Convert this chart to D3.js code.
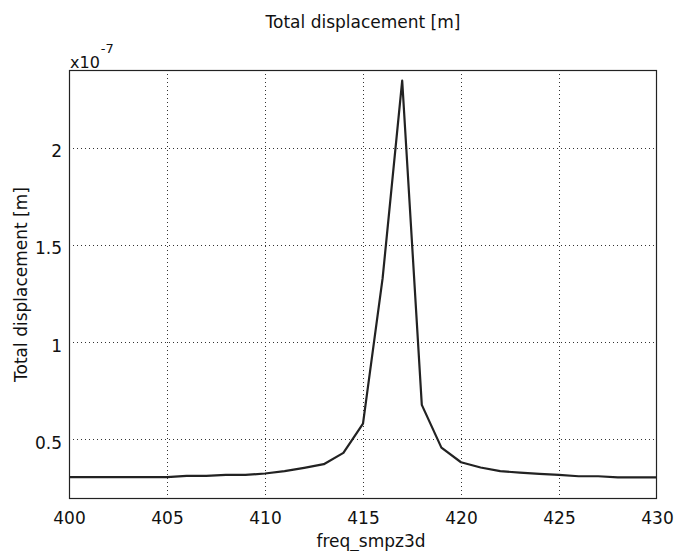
<!DOCTYPE html>
<html>
<head>
<meta charset="utf-8">
<script src="https://cdn.jsdelivr.net/npm/d3@7"></script>
<style>
  body { margin: 0; background: #fff; }
  svg { display: block; }
  text { font-family: "DejaVu Sans", sans-serif; fill: #111; }
</style>
</head>
<body>
<svg id="chart" width="676" height="551"></svg>
<script>
// Frequency sweep (Hz) and total displacement (units of 1e-7 m)
const freq = [400, 401, 402, 403, 404, 405, 406, 407, 408, 409, 410,
              411, 412, 413, 414, 415, 416, 417, 418, 419, 420,
              421, 422, 423, 424, 425, 426, 427, 428, 429, 430];
const displacement = [0.306, 0.306, 0.306, 0.306, 0.306, 0.306, 0.313, 0.313, 0.318, 0.318, 0.325,
                      0.337, 0.354, 0.373, 0.431, 0.582, 1.328, 2.345, 0.678, 0.458, 0.383,
                      0.356, 0.337, 0.330, 0.323, 0.318, 0.311, 0.311, 0.305, 0.305, 0.305];
const xTicks = [400, 405, 410, 415, 420, 425, 430];
const yTicks = [0.5, 1, 1.5, 2];
const yTickLabels = ["0.5", "1", "1.5", "2"];

const margin = { left: 69, right: 19, top: 70, bottom: 52 };
const W = 676, H = 551;
const svg = d3.select("#chart");

const x = d3.scaleLinear().domain([400, 430]).range([margin.left, W - margin.right]);
const y = d3.scaleLinear().domain([0.194, 2.4]).range([H - margin.bottom, margin.top]);

// dotted grid
const grid = svg.append("g").attr("stroke", "#333").attr("stroke-width", 1)
  .attr("stroke-dasharray", "1,3").attr("shape-rendering", "crispEdges");
grid.selectAll(".gx").data(xTicks.slice(1, -1)).join("line")
  .attr("x1", d => Math.round(x(d)) + 0.5).attr("x2", d => Math.round(x(d)) + 0.5)
  .attr("y1", margin.top).attr("y2", H - margin.bottom);
grid.selectAll(".gy").data(yTicks).join("line")
  .attr("y1", d => Math.round(y(d)) + 0.5).attr("y2", d => Math.round(y(d)) + 0.5)
  .attr("x1", margin.left).attr("x2", W - margin.right);

// axes
const xAxis = d3.axisBottom(x).tickValues(xTicks).tickSize(0).tickPadding(13);
const gx = svg.append("g").attr("transform", `translate(0,${H - margin.bottom})`).call(xAxis);
gx.select(".domain").remove();
gx.selectAll("text").attr("font-size", 17).attr("fill", "#111")
  .style("font-family", "DejaVu Sans, sans-serif");

const yAxis = d3.axisLeft(y).tickValues(yTicks).tickFormat((d, i) => yTickLabels[i]).tickSize(0).tickPadding(7);
const gy = svg.append("g").attr("transform", `translate(${margin.left},0)`).call(yAxis);
gy.select(".domain").remove();
gy.selectAll("text").attr("font-size", 17).attr("dy", "0.52em").attr("fill", "#111")
  .style("font-family", "DejaVu Sans, sans-serif");

// plot frame
svg.append("rect")
  .attr("x", margin.left + 0.5).attr("y", margin.top + 0.5)
  .attr("width", W - margin.left - margin.right - 1).attr("height", H - margin.top - margin.bottom - 1)
  .attr("fill", "none").attr("stroke", "#222").attr("stroke-width", 1.2);

// curve
svg.append("path")
  .datum(freq.map((f, i) => [f, displacement[i]]))
  .attr("fill", "none").attr("stroke", "#222").attr("stroke-width", 2.2)
  .attr("stroke-linejoin", "round")
  .attr("d", d3.line().x(d => x(d[0])).y(d => y(d[1])));

// titles
svg.append("text").attr("x", 363).attr("y", 28).attr("text-anchor", "middle")
  .attr("font-size", 17).text("Total displacement [m]");
svg.append("text").attr("x", 371).attr("y", 547)
  .attr("text-anchor", "middle").attr("font-size", 17).text("freq_smpz3d");
svg.append("text").attr("transform", `translate(27,${(margin.top + H - margin.bottom) / 2}) rotate(-90)`)
  .attr("text-anchor", "middle").attr("font-size", 17).text("Total displacement [m]");

// exponent label
const ex = svg.append("text").attr("x", margin.left + 1).attr("y", 67.5).attr("font-size", 16);
ex.append("tspan").text("x10");
ex.append("tspan").attr("dy", -15).attr("dx", 1).attr("font-size", 13).text("-7");
</script>
</body>
</html>
